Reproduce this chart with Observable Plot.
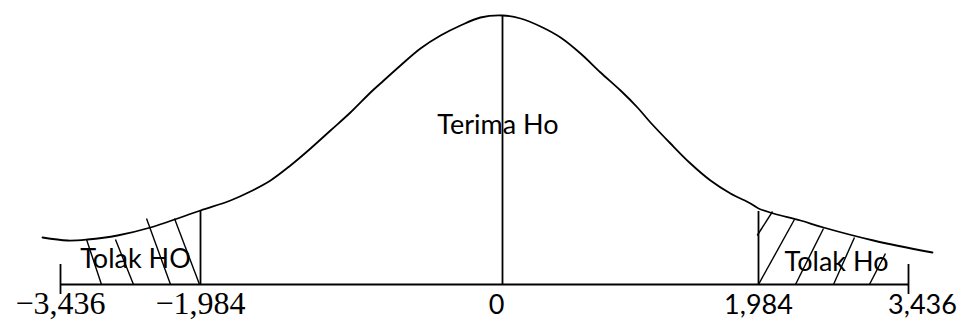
<!DOCTYPE html>
<html>
<head>
<meta charset="utf-8">
<script src="https://cdn.jsdelivr.net/npm/d3@7"></script>
<script src="https://cdn.jsdelivr.net/npm/@observablehq/plot@0.6"></script>
<style>
  html, body { margin: 0; padding: 0; background: #fff; }
  #chart svg { display: block; background: #fff; }
</style>
</head>
<body>
<div id="chart"></div>
<script>
// Axis ticks (critical values of t) and their labels
const tickValues = [-3.436, -1.984, 0, 1.984, 3.436];
const tickLabels = ["−3,436", "−1,984", "0", "1,984", "3,436"];

// Hand-drawn bell curve (x in t units, height in arbitrary density units)
const curveX = [-3.623, -3.363, -3.156, -2.845, -2.503, -1.984, -1.787, -1.656, -1.524, -1.393,
                -1.261, -1.130, -0.999, -0.867, -0.802, -0.670, -0.539, -0.407, -0.276, -0.145,
                0, 0.140, 0.295, 0.450, 0.605, 0.760, 0.915, 1.046, 1.147, 1.302,
                1.457, 1.612, 1.767, 1.922, 1.984, 2.129, 2.391, 2.613, 3.097, 3.668];
const curveH = [47, 44, 45, 49, 57, 74, 84, 93, 104, 119,
                136, 154, 172, 192, 201, 219, 236, 249, 259, 267,
                269, 266, 258, 247, 231, 212, 194, 177, 162, 141,
                121, 104, 91, 81, 76, 71, 64, 57, 44, 32];

// Region boundaries (vertical lines)
const boundaryX = [-1.984, 0, 1.984];
const boundaryTop = [74, 269, 73];

// Hatch strokes in the rejection regions
const hatchX1 = [-3.166, -2.866, -2.544, -2.254, 1.974, 1.984, 2.342, 2.710, 3.058];
const hatchH1 = [45, 45, 66, 66, 49, 0, 0, 0, 0];
const hatchX2 = [-3.011, -2.679, -2.295, -1.994, 2.120, 2.332, 2.613, 2.913, 3.213];
const hatchH2 = [0, 0, 0, 0, 73, 65, 56, 47, 31];

// Region labels
const regionLabels = ["Tolak HO", "Terima Ho", "Tolak Ho"];
const regionX = [-2.658, -0.03, 2.739];
const regionH = [17, 151, 14];

const curve = curveX.map((x, i) => ({x, h: curveH[i]}));
const bounds = boundaryX.map((x, i) => ({x, top: boundaryTop[i]}));
const hatches = hatchX1.map((x1, i) => ({x1, y1: hatchH1[i], x2: hatchX2[i], y2: hatchH2[i]}));
const regions = regionLabels.map((t, i) => ({t, x: regionX[i], h: regionH[i]}));
const ticks = tickValues.map((v, i) => ({v, label: tickLabels[i]}));

const sans = "Lato, 'Open Sans', sans-serif";
const serif = "'Liberation Serif', 'DejaVu Serif', serif";

const chart = Plot.plot({
  width: 958,
  height: 320,
  margin: 0,
  style: {background: "#fff", overflow: "visible"},
  x: {type: "linear", domain: tickValues, range: [60, 200, 502, 758, 908], axis: null},
  y: {domain: [0, 269], range: [284, 15], axis: null},
  marks: [
    Plot.ruleY([0], {x1: tickValues[0], x2: tickValues[4], stroke: "#000", strokeWidth: 1.8}),
    Plot.ruleX([tickValues[0], tickValues[4]], {y1: 20, y2: -10, stroke: "#000", strokeWidth: 1.8}),
    Plot.ruleX(bounds, {x: "x", y1: 0, y2: "top", stroke: "#000", strokeWidth: 1.8}),
    Plot.link(hatches, {x1: "x1", y1: "y1", x2: "x2", y2: "y2", stroke: "#000", strokeWidth: 1.4}),
    Plot.line(curve, {x: "x", y: "h", curve: "catmull-rom", stroke: "#000", strokeWidth: 1.8}),
    Plot.text(regions, {x: "x", y: "h", text: "t", lineAnchor: "bottom", fontFamily: sans, fontSize: 27, fill: "#000"}),
    Plot.text(ticks.filter(d => d.v < 0), {x: "v", y: -29, text: "label", lineAnchor: "bottom", fontFamily: serif, fontSize: 32, fill: "#000"}),
    Plot.text(ticks.filter(d => d.v === 0), {x: "v", y: -29, dx: -6, text: "label", lineAnchor: "bottom", fontFamily: sans, fontSize: 27, fill: "#000"}),
    Plot.text(ticks.filter(d => d.v > 0 && d.v < 3), {x: "v", y: -29, text: "label", lineAnchor: "bottom", fontFamily: sans, fontSize: 27, fill: "#000"}),
    Plot.text(ticks.filter(d => d.v > 3), {x: "v", y: -29, dx: 14, text: "label", lineAnchor: "bottom", fontFamily: sans, fontSize: 27, fill: "#000"})
  ]
});
document.getElementById("chart").appendChild(chart);
</script>
</body>
</html>
